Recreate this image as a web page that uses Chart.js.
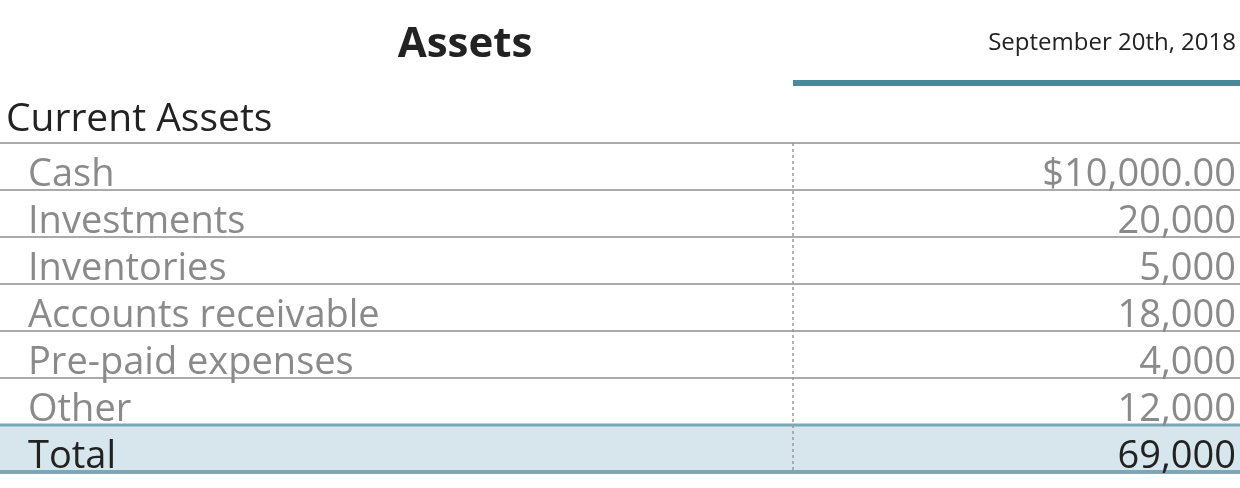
<!DOCTYPE html>
<html><head><meta charset="utf-8">
<script src="https://cdn.jsdelivr.net/npm/chart.js@4/dist/chart.umd.min.js"></script>
<style>html,body{margin:0;padding:0;background:#fff}#wrap{width:1240px;height:488px}</style>
</head><body><div id="wrap"><canvas id="c"></canvas></div>
<script>
const title = "Assets";
const dateLabel = "September 20th, 2018";
const section = "Current Assets";
const categories = ["Cash","Investments","Inventories","Accounts receivable","Pre-paid expenses","Other","Total"];
const values = [10000,20000,5000,18000,4000,12000,69000];
const valueLabels = ["$10,000.00","20,000","5,000","18,000","4,000","12,000","69,000"];
const FONT = "'Open Sans', sans-serif";

const tablePlugin = {
  id: 'table',
  beforeDatasetsDraw(chart) {
    const ctx = chart.ctx, ca = chart.chartArea, y = chart.scales.y;
    ctx.save();
    ctx.fillStyle = '#222';
    ctx.font = "bold 42px " + FONT; ctx.textAlign = 'center'; ctx.textBaseline = 'alphabetic';
    ctx.fillText(title, 465, 57);
    ctx.font = "24px " + FONT; ctx.textAlign = 'right';
    ctx.fillText(dateLabel, 1236, 50);
    ctx.fillStyle = '#4a8a9a'; ctx.fillRect(793, 80, 447, 6);
    ctx.fillStyle = '#222'; ctx.font = "39px " + FONT; ctx.textAlign = 'left';
    ctx.fillText(section, 6, 131);
    const n = categories.length;
    const h = (ca.bottom - ca.top) / n;
    const tc = y.getPixelForValue(n - 1);
    ctx.fillStyle = '#d6e6ec'; ctx.fillRect(0, tc - h/2, 1240, h);
    ctx.strokeStyle = '#aaa'; ctx.lineWidth = 2;
    for (let i = 0; i < n - 1; i++) {
      const t = y.getPixelForValue(i) - h/2;
      ctx.beginPath(); ctx.moveTo(0, t); ctx.lineTo(1240, t); ctx.stroke();
    }
    ctx.fillStyle = '#7aa8b6';
    ctx.fillRect(0, tc - h/2 - 1.5, 1240, 3);
    ctx.fillRect(0, tc + h/2 - 2, 1240, 4);
    ctx.strokeStyle = '#999'; ctx.lineWidth = 1.5; ctx.setLineDash([3,3]);
    ctx.beginPath(); ctx.moveTo(793, ca.top); ctx.lineTo(793, ca.bottom); ctx.stroke();
    ctx.setLineDash([]);
    ctx.font = "38px " + FONT;
    for (let i = 0; i < n; i++) {
      const c = y.getPixelForValue(i);
      const base = c + h/2 - 4;
      ctx.fillStyle = i === n - 1 ? '#222' : '#8a8a8a';
      ctx.textAlign = 'left'; ctx.fillText(categories[i], 28, base);
      ctx.textAlign = 'right'; ctx.fillText(valueLabels[i], 1236, base);
    }
    ctx.restore();
  }
};

new Chart(document.getElementById('c'), {
  type: 'bar',
  data: { labels: categories, datasets: [{ data: values, backgroundColor: 'rgba(0,0,0,0)' }] },
  options: {
    indexAxis: 'y', responsive: true, maintainAspectRatio: false, animation: false,
    layout: { padding: { top: 143, bottom: 16, left: 0, right: 0 } },
    plugins: { legend: { display: false }, tooltip: { enabled: false } },
    scales: { x: { display: false, min: 0 }, y: { display: false } }
  },
  plugins: [tablePlugin]
});
</script></body></html>
